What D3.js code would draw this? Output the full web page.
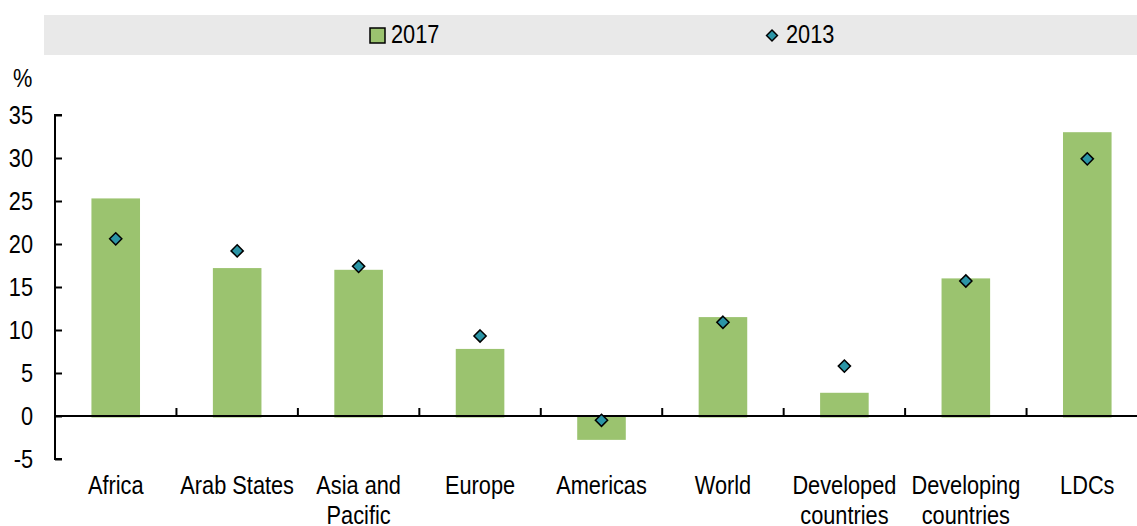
<!DOCTYPE html>
<html>
<head>
<meta charset="utf-8">
<script src="https://cdn.jsdelivr.net/npm/d3@7"></script>
<style>
  body { margin: 0; background: #fff; }
  svg text { font-family: "Liberation Sans", Arial, sans-serif; fill: #000; }
</style>
</head>
<body>
<svg id="chart" width="1137" height="526"></svg>
<script>
var categories = ["Africa", "Arab States", "Asia and|Pacific", "Europe", "Americas", "World", "Developed|countries", "Developing|countries", "LDCs"]
var values2017 = [25.3, 17.2, 17.0, 7.8, -2.6, 11.5, 2.7, 16.0, 33.0]
var values2013 = [20.6, 19.2, 17.4, 9.3, -0.5, 10.9, 5.8, 15.7, 29.9]
var yTicks = [-5, 0, 5, 10, 15, 20, 25, 30, 35]

var svg = d3.select("#chart")
var plotLeft = 55, plotRight = 1148, plotTop = 115, plotBottom = 459
var narrow = " scale(0.87,1)"

var x = d3.scaleBand().domain(categories).range([plotLeft, plotRight]).paddingInner(0.6).paddingOuter(0.3)
var y = d3.scaleLinear().domain([-5, 35]).range([plotBottom, plotTop])

// legend band
svg.append("rect").attr("x", 44).attr("y", 15).attr("width", 1137 - 44).attr("height", 40).attr("fill", "#e9e9e9")
svg.append("rect").attr("x", 370).attr("y", 28).attr("width", 15).attr("height", 15)
	.attr("fill", "#9bc36f").attr("stroke", "#000").attr("stroke-width", 1.5)
svg.append("text").attr("transform", "translate(391,43)" + narrow).attr("font-size", 25).text("2017")
svg.append("path").attr("d", d3.symbol(d3.symbolDiamond2, 75)()).attr("transform", "translate(772,35.5)")
	.attr("fill", "#2b95a6").attr("stroke", "#000").attr("stroke-width", 1.5)
svg.append("text").attr("transform", "translate(786,43)" + narrow).attr("font-size", 25).text("2013")

// bars
svg.selectAll(".bar").data(values2017).enter().append("rect")
	.attr("class", "bar")
	.attr("x", function(d, i){ return x(categories[i]) })
	.attr("width", x.bandwidth())
	.attr("y", function(d){ return d > 0 ? y(d) : y(0) })
	.attr("height", function(d){ return Math.abs(y(d) - y(0)) + 1.5 })
	.attr("fill", "#9bc36f")

// y axis
var yAxis = svg.append("g").attr("transform", "translate(" + plotLeft + ",0)")
	.call(d3.axisRight(y).tickValues(yTicks).tickSize(7).tickFormat(""))
yAxis.selectAll("path, line").attr("stroke", "#000").attr("stroke-width", 2)
yAxis.select(".domain").attr("d", "M7," + plotTop + "H0V" + plotBottom + "H7")
svg.selectAll(".ylab").data(yTicks).enter().append("text")
	.attr("transform", function(d){ return "translate(33," + (y(d) + 9) + ")" + narrow })
	.attr("text-anchor", "end").attr("font-size", 25)
	.text(function(d){ return d })
svg.append("text").attr("transform", "translate(13,87)" + narrow).attr("font-size", 25).text("%")

// zero line with category separators
var zero = y(0)
svg.append("line").attr("x1", plotLeft).attr("x2", 1137).attr("y1", zero).attr("y2", zero)
	.attr("stroke", "#000").attr("stroke-width", 2)
var step = x.step()
svg.selectAll(".sep").data(categories.slice(1)).enter().append("line")
	.attr("x1", function(d){ return x(d) - step * 0.3 }).attr("x2", function(d){ return x(d) - step * 0.3 })
	.attr("y1", zero).attr("y2", zero - 8)
	.attr("stroke", "#000").attr("stroke-width", 2)

// diamonds
svg.selectAll(".dot").data(values2013).enter().append("path")
	.attr("d", d3.symbol(d3.symbolDiamond2, 95)())
	.attr("transform", function(d, i){ return "translate(" + (x(categories[i]) + x.bandwidth() / 2) + "," + y(d) + ")" })
	.attr("fill", "#2b95a6").attr("stroke", "#000").attr("stroke-width", 1.5)

// category labels
var lab = svg.selectAll(".xlab").data(categories).enter().append("text")
	.attr("text-anchor", "middle").attr("font-size", 25)
	.attr("transform", function(d){ return "translate(" + (x(d) + x.bandwidth() / 2) + ",494)" + narrow })
lab.selectAll("tspan").data(function(d){ return d.split("|") }).enter().append("tspan")
	.attr("x", 0).attr("y", function(d, i){ return i * 30 })
	.text(function(d){ return d })
</script>
</body>
</html>
